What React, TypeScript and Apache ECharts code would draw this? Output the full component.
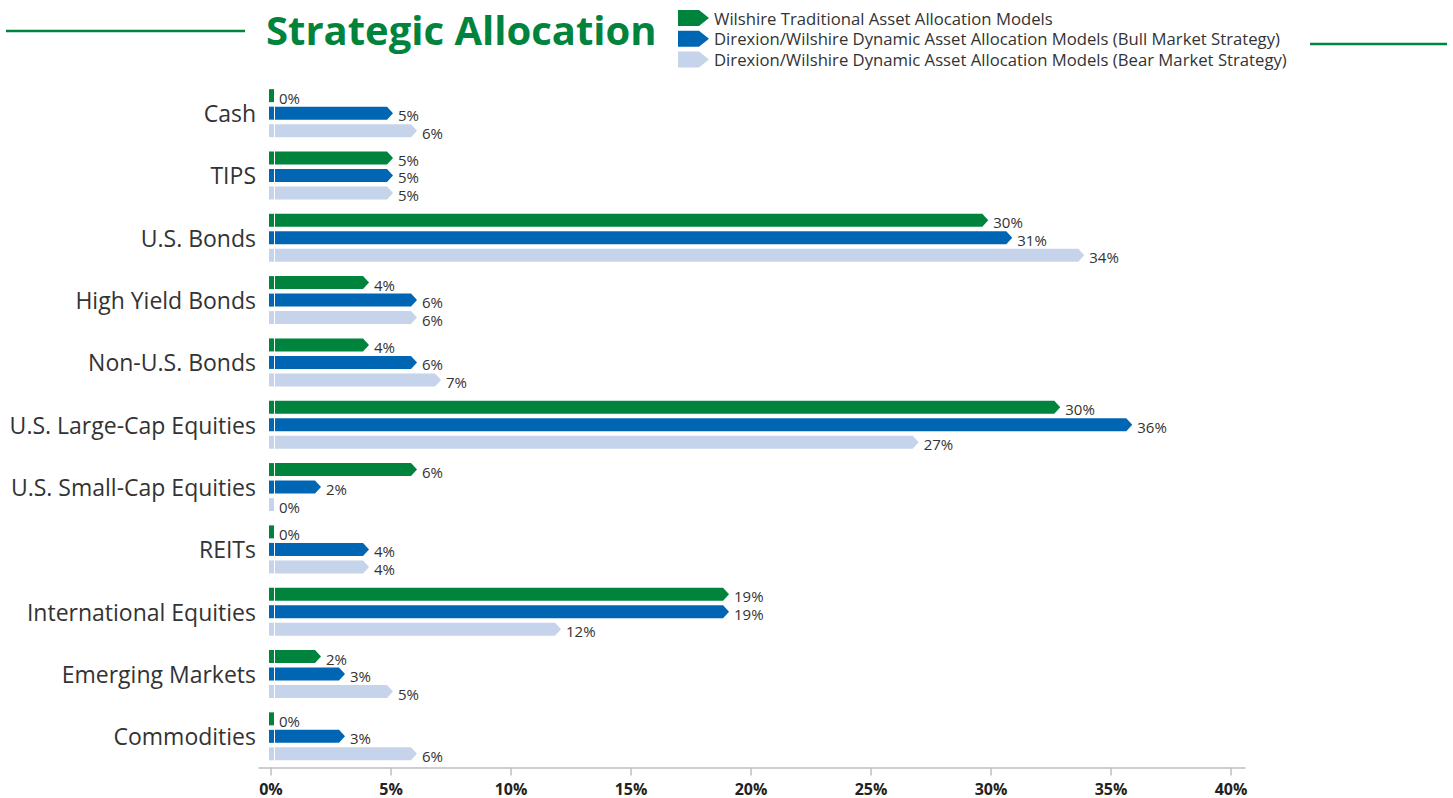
import React, { useEffect, useRef } from "react";
import * as echarts from "echarts";

const categories = [
  "Cash",
  "TIPS",
  "U.S. Bonds",
  "High Yield Bonds",
  "Non-U.S. Bonds",
  "U.S. Large-Cap Equities",
  "U.S. Small-Cap Equities",
  "REITs",
  "International Equities",
  "Emerging Markets",
  "Commodities",
];

const seriesNames = [
  "Wilshire Traditional Asset Allocation Models",
  "Direxion/Wilshire Dynamic Asset Allocation Models (Bull Market Strategy)",
  "Direxion/Wilshire Dynamic Asset Allocation Models (Bear Market Strategy)",
];

// bar lengths as drawn
const traditionalValues = [0, 5, 29.8, 4, 4, 32.8, 6, 0, 19, 2, 0];
const bullValues = [5, 5, 30.8, 6, 6, 35.8, 2, 4, 19, 3, 3];
const bearValues = [6, 5, 33.8, 6, 7, 26.9, 0, 4, 12, 5, 6];

// printed labels
const traditionalLabels = ["0%", "5%", "30%", "4%", "4%", "30%", "6%", "0%", "19%", "2%", "0%"];
const bullLabels = ["5%", "5%", "31%", "6%", "6%", "36%", "2%", "4%", "19%", "3%", "3%"];
const bearLabels = ["6%", "5%", "34%", "6%", "7%", "27%", "0%", "4%", "12%", "5%", "6%"];

const xTicks = [0, 5, 10, 15, 20, 25, 30, 35, 40];

const GREEN = "#00843D";
const BLUE = "#0066B3";
const LIGHT = "#C6D4EB";
const TEXT = "#333333";
const FONT = "'Open Sans', 'Noto Sans', sans-serif";

function makeSeries(name: string, values: number[], labels: string[], color: string, offset: number) {
  return {
    type: "custom",
    name,
    itemStyle: { color },
    encode: { x: 0, y: 1 },
    data: values.map((v, i) => [v, i]),
    renderItem: (params: any, api: any) => {
      const v = api.value(0);
      const idx = api.value(1);
      const c0 = api.coord([0, idx]);
      const cv = api.coord([v, idx]);
      const h = 13;
      const cy = c0[1] + offset;
      const top = cy - h / 2;
      const x0 = c0[0];
      const children: any[] = [
        { type: "rect", shape: { x: x0 - 2, y: top, width: 5, height: h }, style: { fill: color } },
      ];
      let labelX = x0 + 8;
      if (v > 0) {
        const tip = cv[0] + 2;
        children.push({
          type: "polygon",
          shape: {
            points: [
              [x0 + 4, top],
              [tip - 6, top],
              [tip, cy],
              [tip - 6, top + h],
              [x0 + 4, top + h],
            ],
          },
          style: { fill: color },
        });
        labelX = tip + 5;
      }
      children.push({
        type: "text",
        style: {
          text: labels[params.dataIndex],
          x: labelX,
          y: cy + 2,
          fill: TEXT,
          fontSize: 15,
          fontFamily: FONT,
          align: "left",
          verticalAlign: "middle",
        },
      });
      return { type: "group", children };
    },
  };
}

export default function App() {
  const ref = useRef<HTMLDivElement>(null);
  useEffect(() => {
    if (!ref.current) return;
    const chart = echarts.init(ref.current, undefined, { renderer: "svg" });
    chart.setOption({
      animation: false,
      backgroundColor: "#ffffff",
      legend: {
        orient: "vertical",
        left: 678,
        top: 7.6,
        padding: 0,
        itemWidth: 31,
        itemHeight: 16,
        itemGap: 0,
        icon: "path://M0,0 L21,0 L31,8 L21,16 L0,16 Z",
        data: seriesNames,
        textStyle: { color: TEXT, fontSize: 16.7, lineHeight: 20.8, fontFamily: FONT },
        selectedMode: false,
      },
      grid: { left: 259, right: 208, top: 82, bottom: 30.5, containLabel: false },
      xAxis: {
        type: "value",
        min: -0.5,
        max: 40.58,
        splitLine: { show: false },
        axisLine: { show: true, lineStyle: { color: "#BFBFBF", width: 1.5 } },
        axisTick: { show: true, customValues: xTicks, length: 8, lineStyle: { color: "#BFBFBF", width: 1.5 } },
        axisLabel: {
          customValues: xTicks,
          formatter: (v: number) => `${v}%`,
          color: "#222",
          fontWeight: "bold",
          fontSize: 16,
          fontFamily: FONT,
          margin: 13,
        },
      },
      yAxis: {
        type: "category",
        inverse: true,
        data: categories,
        axisLine: { show: false },
        axisTick: { show: false },
        axisLabel: { color: TEXT, fontSize: 23, fontFamily: FONT, margin: 3 },
      },
      graphic: [
        {
          type: "text",
          x: 266,
          y: 29,
          style: {
            text: "Strategic Allocation",
            fill: GREEN,
            fontSize: 40,
            fontWeight: "bold",
            fontFamily: FONT,
            verticalAlign: "middle",
          },
        },
        { type: "line", shape: { x1: 6, y1: 31, x2: 245, y2: 31 }, style: { stroke: GREEN, lineWidth: 2.5 } },
        { type: "line", shape: { x1: 1310, y1: 44, x2: 1447, y2: 44 }, style: { stroke: GREEN, lineWidth: 2.5 } },
      ],
      series: [
        makeSeries(seriesNames[0], traditionalValues, traditionalLabels, GREEN, -17.5),
        makeSeries(seriesNames[1], bullValues, bullLabels, BLUE, 0),
        makeSeries(seriesNames[2], bearValues, bearLabels, LIGHT, 17.5),
      ],
    });
    return () => chart.dispose();
  }, []);
  return <div ref={ref} style={{ width: 1453, height: 798, position: "absolute", left: 0, top: 0 }} />;
}
